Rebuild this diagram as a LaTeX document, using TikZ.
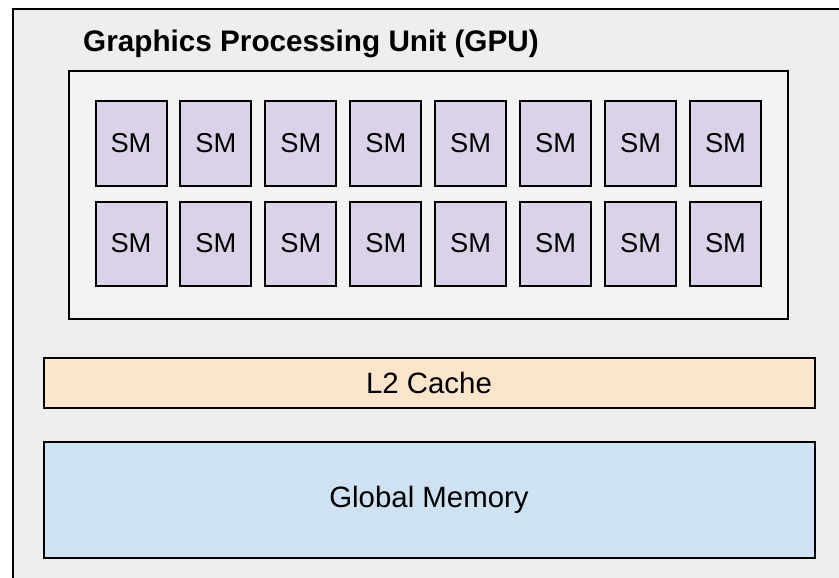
\documentclass[tikz,border=0pt]{standalone}
\usepackage{fontspec}
\setmainfont{Liberation Sans}
\usetikzlibrary{positioning}
\definecolor{gpuBase}{RGB}{238,238,238}
\definecolor{gpuCore}{RGB}{243,243,243}
\definecolor{smFill}{RGB}{217,210,233}
\definecolor{cacheFill}{RGB}{252,229,205}
\definecolor{memFill}{RGB}{207,226,243}

\begin{document}
\begin{tikzpicture}[
    x=1pt, y=-1pt,
    frame/.style={draw=black, line width=2pt},
    smblock/.style={rectangle, frame, fill=smFill, minimum width=71pt, minimum height=84pt, inner sep=0pt, font=\fontsize{27.3}{32}\selectfont},
    memblock/.style={rectangle, frame, minimum width=771pt, inner sep=0pt, font=\fontsize{29.4}{35}\selectfont},
    title/.style={inner sep=0pt, font=\fontsize{29.7}{36}\selectfont\bfseries},
]
\useasboundingbox (0,0) rectangle (839,578);
\clip (0,0) rectangle (839,578);

% ========== GPU outer frame (runs past the right and bottom edges) ==========
\node[rectangle, frame, fill=gpuBase, minimum width=840pt, minimum height=590pt, anchor=north west] at (12,8) (gpu) {};
\node[title, anchor=base west] at (83,52) (gputitle) {Graphics Processing Unit (GPU)};

% ========== SM array ==========
\node[rectangle, frame, fill=gpuCore, minimum width=719pt, minimum height=247pt] at (428,195) (smarray) {};
\foreach \col in {0,...,7} {
  \node[smblock] at ({131+84.93*\col},143.5) (sma\col) {SM};
  \node[smblock] at ({131+84.93*\col},243.5) (smb\col) {SM};
}

% ========== Memory hierarchy ==========
\node[memblock, fill=cacheFill, minimum height=50pt] at (429,382.5) (l2) {L2 Cache};
\node[memblock, fill=memFill, minimum height=116pt] at (429,499.5) (gmem) {Global Memory};

\end{tikzpicture}
\end{document}
